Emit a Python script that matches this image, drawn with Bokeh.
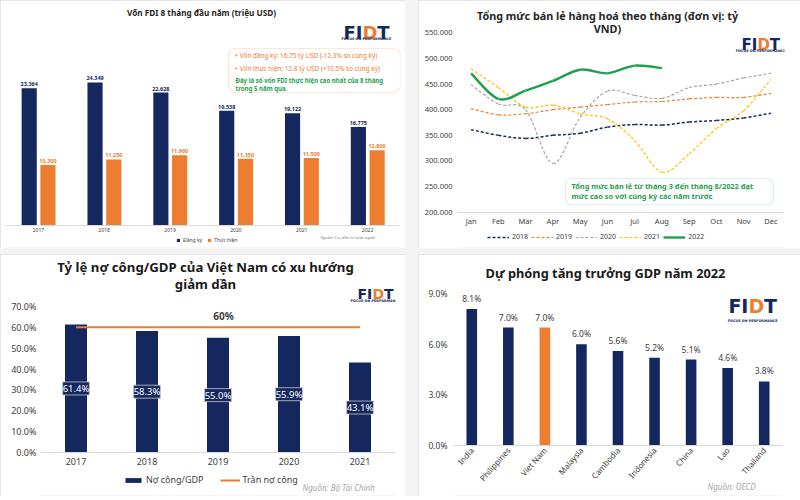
import math
from bokeh.plotting import figure
from bokeh.models import (ColumnDataSource, FactorRange, Range1d, LabelSet, Label, Legend,
                          LegendItem, BoxAnnotation, FixedTicker, Spacer)
from bokeh.transform import dodge
from bokeh.layouts import row, column
from bokeh.core.properties import value
from bokeh.embed import file_html
from bokeh.resources import INLINE

# ------------------------------------------------------------------ data
fdi_years = ["2017", "2018", "2019", "2020", "2021", "2022"]
fdi_registered = [23364, 24349, 22628, 19538, 19122, 16775]
fdi_disbursed = [10300, 11250, 11960, 11350, 11500, 12800]

months = ["Jan", "Feb", "Mar", "Apr", "May", "Jun", "Jul", "Aug", "Sep", "Oct", "Nov", "Dec"]
retail_2018 = [361000, 350000, 344000, 350000, 354000, 366000, 371000, 370000, 376000, 379000, 384000, 393000]
retail_2019 = [402000, 390000, 392000, 400000, 405000, 410000, 415000, 416000, 421000, 424000, 424000, 432000]
retail_2020 = [449000, 411000, 400000, 295000, 385000, 436000, 428000, 422000, 443000, 450000, 462000, 471000]
retail_2021 = [480000, 443000, 405000, 409000, 392000, 382000, 340000, 278000, 314000, 363000, 398000, 459000]
retail_2022 = [471000, 421000, 437000, 456000, 478000, 471000, 486000, 481000]
retail_ticks = [200000, 250000, 300000, 350000, 400000, 450000, 500000, 550000]
retail_tick_labels = ["200.000", "250.000", "300.000", "350.000", "400.000", "450.000", "500.000", "550.000"]

debt_years = ["2017", "2018", "2019", "2020", "2021"]
debt_ratio = [61.4, 58.3, 55.0, 55.9, 43.1]
debt_ceiling = 60
debt_ticks = [0, 10, 20, 30, 40, 50, 60, 70]
debt_tick_labels = ["0.0%", "10.0%", "20.0%", "30.0%", "40.0%", "50.0%", "60.0%", "70.0%"]

gdp_countries = ["India", "Philippines", "Viet Nam", "Malaysia", "Cambodia", "Indonesia", "China", "Lao", "Thailand"]
gdp_growth = [8.1, 7.0, 7.0, 6.0, 5.6, 5.2, 5.1, 4.6, 3.8]
gdp_ticks = [0, 3, 6, 9]
gdp_tick_labels = ["0.0%", "3.0%", "6.0%", "9.0%"]

# ------------------------------------------------------------------ style
NAVY = "#14285f"
ORANGE = "#ed7d31"
GREEN = "#1fa04e"
GRAY_TXT = "#404040"
FONT = "Noto Sans"


def make_panel(w, h, l, r, t, b, x_range, y_range):
    p = figure(width=w, height=h, x_range=x_range, y_range=y_range, output_backend="svg",
               toolbar_location=None, title=None,
               min_border_left=l, min_border_right=r, min_border_top=t, min_border_bottom=b)
    p.outline_line_color = None
    p.xgrid.grid_line_color = None
    p.ygrid.grid_line_color = None
    p.background_fill_color = "white"
    p.border_fill_color = "white"
    p.styles = {"outline": "1px solid #dcdcdc", "outline-offset": "-1px"}
    for ax in (p.xaxis[0], p.yaxis[0]):
        ax.major_tick_line_color = None
        ax.minor_tick_line_color = None
        ax.major_tick_out = 0
        ax.major_tick_in = 0
        ax.minor_tick_out = 0
        ax.major_label_text_font = FONT
        ax.major_label_text_color = GRAY_TXT
    return p


def txt(p, x, y, s, size, color=GRAY_TXT, style="normal", align="left", baseline="middle", font=FONT):
    p.add_layout(Label(x=x, y=y, x_units="screen", y_units="screen", text=s,
                       text_font_size=f"{size}px", text_color=color, text_font_style=style,
                       text_align=align, text_baseline=baseline, text_font=font))


def logo(p, x, y, size, tag_gap):
    adv = [("F", NAVY, 0.66), ("I", NAVY, 0.36), ("D", ORANGE, 0.80), ("T", NAVY, 0.66)]
    cx = x
    for ch, col, a in adv:
        txt(p, cx, y, ch, size, col, "bold", baseline="alphabetic", font="DejaVu Sans")
        cx += a * size + 0.3
    total = cx - x
    txt(p, x + total / 2, y - tag_gap, "FOCUS ON PERFORMANCE", 3.4, NAVY, "bold",
        align="center", font="DejaVu Sans")


def legend(p, items, x, y, size, glyph_w, glyph_h, label_h, spacing):
    leg = Legend(items=items, location=(x, y), orientation="horizontal",
                 background_fill_alpha=0, border_line_color=None, padding=0, margin=0,
                 spacing=spacing, glyph_width=glyph_w, glyph_height=glyph_h, label_standoff=3,
                 label_height=label_h, label_width=10, label_text_font_size=f"{size}px",
                 label_text_font=FONT, label_text_color=GRAY_TXT)
    p.add_layout(leg)


# ------------------------------------------------------------------ panel 1: FDI
W1, H1, L1, R1, T1, B1 = 405, 248, 5, 5, 1, 1
p1 = make_panel(W1, H1, L1, R1, T1, B1, FactorRange(factors=fdi_years), Range1d(-3746, 38140))
p1.yaxis.visible = False
p1.xaxis.fixed_location = 0
p1.xaxis.axis_line_color = "#d9d9d9"
p1.xaxis.major_label_text_font_size = "5px"
p1.xaxis.major_label_standoff = 3

src1 = ColumnDataSource(dict(year=fdi_years, reg=fdi_registered, dis=fdi_disbursed,
                             reg_lbl=[f"{v:,}" for v in fdi_registered],
                             dis_lbl=[f"{v:,}" for v in fdi_disbursed]))
r_reg = p1.vbar(x=dodge("year", -0.14, range=p1.x_range), top="reg", width=0.23, source=src1,
                fill_color=NAVY, line_color=None)
r_dis = p1.vbar(x=dodge("year", 0.145, range=p1.x_range), top="dis", width=0.23, source=src1,
                fill_color=ORANGE, line_color=None)
p1.add_layout(LabelSet(x=dodge("year", -0.14, range=p1.x_range), y="reg", text="reg_lbl", source=src1,
                       y_offset=2, text_align="center", text_baseline="bottom",
                       text_font_size="5.5px", text_font_style="bold", text_color=NAVY,
                       text_font=value(FONT)))
p1.add_layout(LabelSet(x=dodge("year", 0.145, range=p1.x_range), y="dis", text="dis_lbl", source=src1,
                       y_offset=2, text_align="center", text_baseline="bottom",
                       text_font_size="5.5px", text_font_style="bold", text_color=ORANGE,
                       text_font=value(FONT)))

fx = lambda px: px - 5
fy = lambda py: 247 - py
txt(p1, fx(201), fy(12), "Vốn FDI 8 tháng đầu năm (triệu USD)", 8.2, "#262626", "bold", align="center")
logo(p1, fx(343), fy(32), 18, 6.5)
p1.add_layout(BoxAnnotation(left=fx(228), right=fx(400), bottom=fy(92), top=fy(48),
                            left_units="screen", right_units="screen", bottom_units="screen",
                            top_units="screen", fill_color="white", fill_alpha=1,
                            line_color="#f4b183", line_width=1.2, border_radius=7))
txt(p1, fx(234), fy(55), "+ Vốn đăng ký: 16.75 tỷ USD (-12.3% so cùng kỳ)", 6.4, ORANGE)
txt(p1, fx(234), fy(68), "+ Vốn thực hiện: 12.8 tỷ USD (+10.5% so cùng kỳ)", 6.4, ORANGE)
txt(p1, fx(235), fy(80), "Đây là số vốn FDI thực hiện cao nhất của 8 tháng", 6.1, GREEN, "bold")
txt(p1, fx(235), fy(88), "trong 5 năm qua.", 6.1, GREEN, "bold")
txt(p1, fx(320), fy(237), "Nguồn: Cục đầu tư nước ngoài", 4, "#7f7f7f", "italic")
legend(p1, [LegendItem(label="Đăng ký", renderers=[r_reg]),
            LegendItem(label="Thực hiện", renderers=[r_dis])],
       fx(176), fy(244), 5, 4, 4, 8, 5)

# ------------------------------------------------------------------ panel 2: retail
W2, H2, L2, R2, T2, B2 = 382, 248, 39, 16, 1, 1
p2 = make_panel(W2, H2, L2, R2, T2, B2, Range1d(-0.5, 11.5), Range1d(131200, 611050))
p2.xaxis.ticker = FixedTicker(ticks=list(range(len(months))))
p2.xaxis.major_label_overrides = {i: m for i, m in enumerate(months)}
p2.xaxis.axis_line_color = "#d9d9d9"
p2.xaxis.fixed_location = retail_ticks[0]
p2.xaxis.major_label_text_font_size = "7.5px"
p2.xaxis.major_label_standoff = 4
p2.yaxis.ticker = FixedTicker(ticks=retail_ticks)
p2.yaxis.major_label_overrides = dict(zip(retail_ticks, retail_tick_labels))
p2.yaxis.axis_line_color = None
p2.yaxis.major_label_text_font_size = "7.5px"
p2.yaxis.major_label_standoff = 5


def bezier_source(vals):
    n = len(vals)
    xs = list(range(n))
    d = dict(x0=[], y0=[], x1=[], y1=[], cx0=[], cy0=[], cx1=[], cy1=[])
    for i in range(n - 1):
        a = i - 1 if i > 0 else i
        c = i + 2 if i + 2 < n else i + 1
        d["x0"].append(xs[i]); d["y0"].append(vals[i])
        d["x1"].append(xs[i + 1]); d["y1"].append(vals[i + 1])
        d["cx0"].append(xs[i] + (xs[i + 1] - xs[a]) / 6)
        d["cy0"].append(vals[i] + (vals[i + 1] - vals[a]) / 6)
        d["cx1"].append(xs[i + 1] - (xs[c] - xs[i]) / 6)
        d["cy1"].append(vals[i + 1] - (vals[c] - vals[i]) / 6)
    return ColumnDataSource(d)


series = [("2018", retail_2018, NAVY, 1.5, "3 2"),
          ("2019", retail_2019, ORANGE, 1.2, "3 2"),
          ("2020", retail_2020, "#a5a5a5", 1.2, "3 2"),
          ("2021", retail_2021, "#ffc000", 1.2, "3 2"),
          ("2022", retail_2022, GREEN, 2.4, "solid")]
items2 = []
for name, vals, col, lw, dash in series:
    r = p2.bezier(x0="x0", y0="y0", x1="x1", y1="y1", cx0="cx0", cy0="cy0", cx1="cx1", cy1="cy1",
                  source=bezier_source(vals), line_color=col, line_width=lw, line_dash=dash)
    items2.append(LegendItem(label=name, renderers=[r]))

gx = lambda px: px - 457
gy = lambda py: 247 - py
txt(p2, gx(607), gy(15), "Tổng mức bán lẻ hàng hoá theo tháng (đơn vị: tỷ", 10.8, "#262626", "bold", align="center")
txt(p2, gx(607), gy(28), "VND)", 10.8, "#262626", "bold", align="center")
logo(p2, gx(741), gy(44), 15, 6.5)
p2.add_layout(BoxAnnotation(left=gx(565), right=gx(773), bottom=gy(204), top=gy(178),
                            left_units="screen", right_units="screen", bottom_units="screen",
                            top_units="screen", fill_color="white", fill_alpha=1,
                            line_color="#8fd0a6", line_width=1.2, border_radius=6))
txt(p2, gx(571), gy(185), "Tổng mức bán lẻ từ tháng 3 đến tháng 8/2022 đạt", 7.4, GREEN, "bold")
txt(p2, gx(571), gy(195), "mức cao so với cùng kỳ các năm trước", 7.4, GREEN, "bold")
legend(p2, items2, gx(487), gy(241), 7, 22, 8, 9, 3)

# ------------------------------------------------------------------ panel 3: public debt
W3, H3, L3, R3, T3, B3 = 405, 242, 40, 10, 1, 1
p3 = make_panel(W3, H3, L3, R3, T3, B3, FactorRange(factors=debt_years), Range1d(-20.62, 94.45))
p3.yaxis.ticker = FixedTicker(ticks=debt_ticks)
p3.yaxis.major_label_overrides = dict(zip(debt_ticks, debt_tick_labels))
p3.yaxis.axis_line_color = None
p3.yaxis.major_label_text_font_size = "9px"
p3.yaxis.major_label_standoff = 4
p3.xaxis.fixed_location = 0
p3.xaxis.axis_line_color = "#d9d9d9"
p3.xaxis.major_label_text_font_size = "9px"
p3.xaxis.major_label_standoff = 6

src3 = ColumnDataSource(dict(year=debt_years, ratio=debt_ratio, mid=[v / 2 for v in debt_ratio],
                             lbl=[f"{v:.1f}%" for v in debt_ratio]))
r_debt = p3.vbar(x="year", top="ratio", width=0.31, source=src3, fill_color=NAVY, line_color=None)
r_ceil = p3.line(x=[debt_years[0], debt_years[-1]], y=[debt_ceiling, debt_ceiling],
                 line_color=ORANGE, line_width=2)
p3.add_layout(LabelSet(x="year", y="mid", text="lbl", source=src3, text_align="center",
                       text_baseline="middle", text_font_size="9.5px", text_color="white",
                       text_font=value(FONT), background_fill_color=NAVY,
                       border_line_color="#c8c8c8", border_line_width=0.8))
hx = lambda px: px - 40
hy = lambda py: 495 - py
p3.add_layout(Label(x=hx(223), y=debt_ceiling, x_units="screen", y_units="data", y_offset=11,
                    text=f"{debt_ceiling}%", text_font_size="10px", text_font_style="bold",
                    text_color=GRAY_TXT, text_align="center", text_baseline="middle", text_font=FONT))
txt(p3, hx(205), hy(266), "Tỷ lệ nợ công/GDP của Việt Nam có xu hướng", 13.2, "#1a1a1a", "bold", align="center")
txt(p3, hx(205), hy(283), "giảm dần", 13.2, "#1a1a1a", "bold", align="center")
logo(p3, hx(357), hy(293), 14, 7)
txt(p3, hx(302), hy(487), "Nguồn: Bộ Tài Chính", 8, "#a6a6a6", "italic")
legend(p3, [LegendItem(label="Nợ công/GDP", renderers=[r_debt]),
            LegendItem(label="Trần nợ công", renderers=[r_ceil])],
       hx(123), hy(486), 9, 20, 6, 10, 16)

# ------------------------------------------------------------------ panel 4: GDP forecast
W4, H4, L4, R4, T4, B4 = 382, 242, 35, 18, 1, 1
p4 = make_panel(W4, H4, L4, R4, T4, B4, FactorRange(factors=gdp_countries), Range1d(-2.966, 11.272))
p4.yaxis.ticker = FixedTicker(ticks=gdp_ticks)
p4.yaxis.major_label_overrides = dict(zip(gdp_ticks, gdp_tick_labels))
p4.yaxis.axis_line_color = None
p4.yaxis.major_label_text_font_size = "8.5px"
p4.yaxis.major_label_standoff = 6
p4.xaxis.fixed_location = 0
p4.xaxis.axis_line_color = "#d9d9d9"
p4.xaxis.major_label_text_font_size = "8px"
p4.xaxis.major_label_orientation = 0.85
p4.xaxis.major_label_standoff = 3

src4 = ColumnDataSource(dict(country=gdp_countries, growth=gdp_growth,
                             color=[ORANGE if c == "Viet Nam" else NAVY for c in gdp_countries],
                             lbl=[f"{v:.1f}%" for v in gdp_growth]))
p4.vbar(x="country", top="growth", width=0.29, source=src4, fill_color="color", line_color=None)
p4.add_layout(LabelSet(x="country", y="growth", text="lbl", source=src4, y_offset=5,
                       text_align="center", text_baseline="bottom", text_font_size="8.5px",
                       text_color=GRAY_TXT, text_font=value(FONT)))
kx = lambda px: px - 453
ky = lambda py: 495 - py
txt(p4, kx(605), ky(272), "Dự phóng tăng trưởng GDP năm 2022", 12.8, "#1a1a1a", "bold", align="center")
logo(p4, kx(728), ky(305), 19, 15)
txt(p4, kx(707), ky(486), "Nguồn: OECD", 8, "#a6a6a6", "italic")

# ------------------------------------------------------------------ layout
GAP = {"background-color": "#f4f4f4"}
layout = column(row(p1, Spacer(width=13, height=H1, styles=GAP), p2),
                Spacer(width=800, height=6, styles=GAP),
                row(p3, Spacer(width=13, height=H3, styles=GAP), p4))

open("out.html", "w").write(file_html(layout, INLINE))
